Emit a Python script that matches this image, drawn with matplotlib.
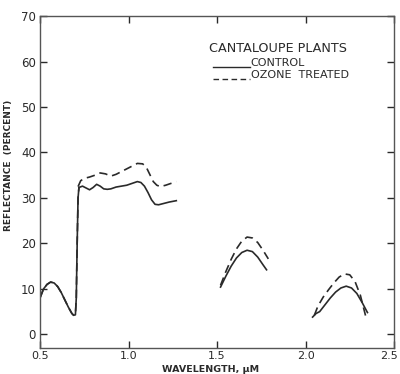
import matplotlib
matplotlib.use('Agg')
import matplotlib.pyplot as plt
import matplotlib.transforms as mtransforms

# Band 1 (visible / near-IR), shared start then split
x_vis = [0.50, 0.52, 0.54, 0.56, 0.58, 0.60, 0.62, 0.64, 0.66, 0.68, 0.69, 0.70, 0.705, 0.71, 0.715, 0.72]
y_vis = [8.0, 10.0, 11.0, 11.5, 11.3, 10.5, 9.2, 7.6, 6.0, 4.6, 4.2, 4.3, 8.0, 20.0, 30.0, 32.3]

x_ctl1 = [0.72, 0.74, 0.76, 0.78, 0.80, 0.82, 0.84, 0.86, 0.88, 0.90, 0.93, 0.96, 0.99,
          1.02, 1.05, 1.07, 1.09, 1.11, 1.13, 1.15, 1.17, 1.20, 1.23, 1.27]
y_ctl1 = [32.3, 32.6, 32.2, 31.8, 32.3, 33.0, 32.6, 32.0, 31.9, 32.0, 32.4, 32.6, 32.8,
          33.2, 33.6, 33.4, 32.6, 31.2, 29.6, 28.6, 28.5, 28.8, 29.1, 29.4]

x_ozn1 = [0.715, 0.73, 0.75, 0.78, 0.81, 0.84, 0.87, 0.90, 0.93, 0.96, 0.99, 1.02, 1.05,
          1.08, 1.10, 1.12, 1.14, 1.16, 1.18, 1.21, 1.24, 1.27]
y_ozn1 = [32.5, 33.8, 34.3, 34.6, 35.0, 35.5, 35.3, 34.8, 35.2, 35.8, 36.4, 37.0, 37.6,
          37.5, 36.8, 35.2, 33.6, 32.8, 32.5, 32.8, 33.2, 33.6]

# Band 2
x_ctl2 = [1.52, 1.55, 1.58, 1.61, 1.64, 1.67, 1.70, 1.73, 1.76, 1.78]
y_ctl2 = [10.4, 12.8, 15.0, 16.8, 18.0, 18.5, 18.2, 17.0, 15.3, 14.2]
x_ozn2 = [1.52, 1.55, 1.58, 1.61, 1.64, 1.67, 1.70, 1.73, 1.76, 1.79]
y_ozn2 = [10.8, 13.8, 16.5, 18.8, 20.5, 21.4, 21.2, 20.2, 18.5, 16.6]

# Band 3
x_ctl3 = [2.04, 2.06, 2.08, 2.11, 2.14, 2.17, 2.20, 2.23, 2.26, 2.29, 2.32, 2.35]
y_ctl3 = [3.8, 4.6, 5.0, 6.5, 8.0, 9.3, 10.2, 10.6, 10.2, 9.0, 7.0, 4.8]
x_ozn3 = [2.05, 2.07, 2.10, 2.13, 2.16, 2.19, 2.22, 2.25, 2.28, 2.31, 2.34]
y_ozn3 = [4.2, 6.2, 8.2, 9.8, 11.3, 12.6, 13.3, 13.1, 11.6, 8.6, 4.0]

xticks = [0.5, 1.0, 1.5, 2.0, 2.5]
xticklabels = ['0.5', '1.0', '1.5', '2.0', '2.5']
yticks = [0, 10, 20, 30, 40, 50, 60, 70]

ink = '#2a2a2a'
plt.rcParams['font.family'] = 'DejaVu Sans'

fig = plt.figure(figsize=(4.0, 3.74), dpi=100)
ax = fig.add_axes([0.1, 0.0695, 0.885, 0.8875])

lw = 1.2
dash = (0, (5, 3))
ax.plot(x_vis, y_vis, color=ink, lw=lw)
ax.plot(x_vis, y_vis, color=ink, lw=lw, linestyle=dash)
ax.plot(x_ctl1, y_ctl1, color=ink, lw=lw)
ax.plot(x_ozn1, y_ozn1, color=ink, lw=lw, linestyle=dash)
ax.plot(x_ctl2, y_ctl2, color=ink, lw=lw)
ax.plot(x_ozn2, y_ozn2, color=ink, lw=lw, linestyle=dash)
ax.plot(x_ctl3, y_ctl3, color=ink, lw=lw)
ax.plot(x_ozn3, y_ozn3, color=ink, lw=lw, linestyle=dash)

ax.set_xlim(0.5, 2.5)
ax.set_ylim(-3, 70)
ax.set_xticks(xticks)
ax.set_xticklabels(xticklabels)
ax.set_yticks(yticks)
ax.tick_params(direction='in', length=5, width=1, colors=ink, labelsize=8,
               top=True, right=True, labelright=False, labeltop=False, pad=2)
ax.tick_params(axis='y', labelsize=8.5, pad=3)
# keep the last x label inside the figure
last = ax.get_xticklabels()[-1]
last.set_transform(last.get_transform() + mtransforms.ScaledTranslation(-5 / 100, 0, fig.dpi_scale_trans))
for s in ax.spines.values():
    s.set_color('#555555')
    s.set_linewidth(1)

ax.set_xlabel('WAVELENGTH, µM', fontsize=6.8, fontweight='bold', color=ink)
ax.xaxis.set_label_coords(0.483, -0.05)
ax.set_ylabel('REFLECTANCE  (PERCENT)', fontsize=6.5, fontweight='bold', color=ink)
ax.yaxis.set_label_coords(-0.075, 0.55)

# legend drawn as in the original (title + line samples)
ax.text(1.455, 62.1, 'CANTALOUPE PLANTS', fontsize=9.2, color=ink, va='baseline')
ax.plot([1.477, 1.686], [58.8, 58.8], color=ink, lw=1.0)
ax.text(1.69, 59.0, 'CONTROL', fontsize=8.0, color=ink, va='baseline')
ax.plot([1.477, 1.686], [56.2, 56.2], color=ink, lw=1.0, linestyle=(0, (4, 2.5)))
ax.text(1.69, 56.4, 'OZONE  TREATED', fontsize=8.0, color=ink, va='baseline')

fig.savefig('out.png', dpi=100)
